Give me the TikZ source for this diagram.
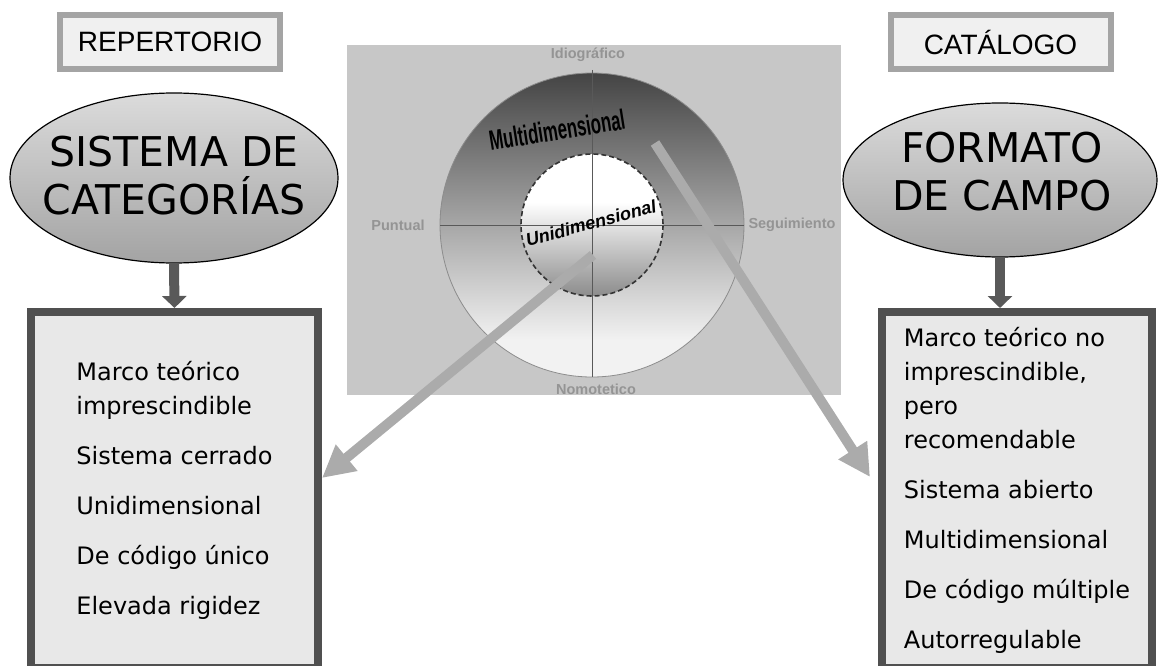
\documentclass[tikz,border=0pt]{standalone}
\usepackage{fontspec}
\setmainfont{DejaVu Sans}
\newfontfamily\arialfont{Liberation Sans}
\usetikzlibrary{shapes.geometric,arrows.meta}
\definecolor{framegray}{HTML}{A4A4A4}
\definecolor{boxgray}{HTML}{505050}
\definecolor{discwhite}{HTML}{F2F2F2}
\definecolor{discdark}{HTML}{444444}
\definecolor{innerlow}{HTML}{8C8C8C}
\definecolor{innermid}{HTML}{DCDCDC}
\pgfdeclareverticalshading{outerdisc}{100bp}{color(0bp)=(discwhite); color(31bp)=(discwhite); color(75bp)=(discdark); color(100bp)=(discdark)}
\pgfdeclareverticalshading{innerdisc}{100bp}{color(0bp)=(innerlow); color(25bp)=(innerlow); color(48bp)=(innermid); color(58bp)=(white); color(100bp)=(white)}

\begin{document}
\begin{tikzpicture}[x=1pt,y=-1pt,
  tagbox/.style={draw=framegray,line width=6pt,fill=black!6,minimum width=220pt,minimum height=54pt,font=\arialfont\fontsize{28}{30}\selectfont},
  oval/.style={ellipse,draw=black,line width=1.2pt,top color=black!14,bottom color=black!36},
  ovaltext/.style={align=center,inner sep=0pt,font=\fontsize{41}{48}\selectfont},
  listbox/.style={draw=boxgray,line width=8pt,fill=black!9,align=left,font=\fontsize{24}{34}\selectfont},
  axislabel/.style={text=black!42,font=\arialfont\bfseries\fontsize{14.5}{16}\selectfont},
  down/.style={line width=10pt,black!65,-{Triangle[width=24pt,length=12pt]}},
  pointer/.style={line width=10pt,black!33,-{Triangle[width=32pt,length=32pt]}}]
\useasboundingbox (0,0) rectangle (1159,666);
% centre picture
\fill[black!22] (347,45) rectangle (841,395);
\coordinate (hub) at (592,225);
\shade[shading=outerdisc] (hub) circle[radius=152];
\draw[black!45,line width=0.8pt] (hub) circle[radius=152];
\shade[shading=innerdisc] (hub) circle[radius=71];
\draw[black!80,line width=1.6pt,dash pattern=on 5pt off 3pt] (hub) circle[radius=71];
\draw[black!65,line width=1pt] (440,225) -- (744,225) (592,70) -- (592,377);
\node[axislabel] (idio) at (588,55) {Idiográfico};
\node[axislabel] (punt) at (398,225) {Puntual};
\node[axislabel] (segu) at (792,225) {Seguimiento};
\node[axislabel] (nomo) at (596,389) {Nomotetico};
\node[rotate=9,xscale=0.6,font=\arialfont\bfseries\fontsize{28}{28}\selectfont] (multi) at (557,130) {Multidimensional};
\node[rotate=15,font=\arialfont\bfseries\itshape\fontsize{18}{18}\selectfont] (uni) at (591,223) {Unidimensional};

% left side
\node[tagbox] (repert) at (170,42) {REPERTORIO};
\node[oval,minimum width=328pt,minimum height=170pt] (sistema) at (174,178) {};
\node[ovaltext] (sistematxt) at (174,176) {SISTEMA DE\\CATEGORÍAS};
\node[listbox,minimum width=287pt,minimum height=356pt] (catlist) at (174.5,490)
  {Marco teórico\\imprescindible\\[16pt]Sistema cerrado\\[16pt]Unidimensional\\[16pt]De código único\\[16pt]Elevada rigidez};

% right side
\node[tagbox] (catal) at (1000.5,42) {CATÁLOGO};
\node[oval,minimum width=314pt,minimum height=154pt] (formato) at (1000,180) {};
\node[ovaltext] (formatotxt) at (1002,172) {FORMATO\\DE CAMPO};
\node[listbox,minimum width=270pt,minimum height=356pt] (camplist) at (1017,490)
  {Marco teórico no\\imprescindible,\\pero\\recomendable\\[16pt]Sistema abierto\\[16pt]Multidimensional\\[16pt]De código múltiple\\[16pt]Autorregulable};

% arrows
\draw[down] (sistema.south) -- (catlist.north);
\draw[down] (formato.south) -- (formato.south |- camplist.north);
\coordinate (unistart) at (593,255);
\coordinate (multistart) at (655,143);
\draw[pointer] (unistart) -- ([yshift=12pt]catlist.east);
\draw[pointer] (multistart) -- ([xshift=-8pt,yshift=13pt]camplist.west);
\end{tikzpicture}
\end{document}
